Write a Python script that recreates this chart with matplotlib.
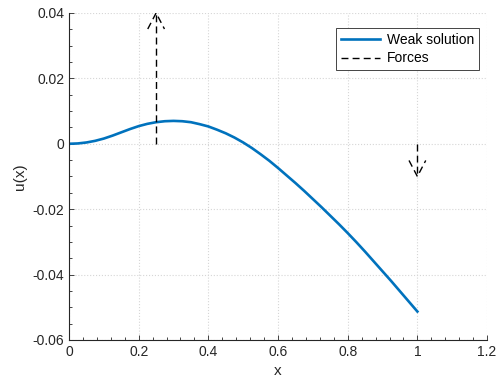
import numpy as np
import matplotlib
matplotlib.use("Agg")
import matplotlib.pyplot as plt
from matplotlib.ticker import MultipleLocator, FormatStrFormatter

plt.rcParams['font.family'] = ['Liberation Sans', 'DejaVu Sans']
plt.rcParams['axes.unicode_minus'] = False

# Weak solution
x = [0, 0.025, 0.05, 0.075, 0.1, 0.125, 0.15, 0.175, 0.2, 0.225, 0.25,
     0.275, 0.3, 0.325, 0.35, 0.375, 0.4, 0.425, 0.45, 0.475, 0.5,
     0.525, 0.55, 0.575, 0.6, 0.625, 0.65, 0.675, 0.7, 0.725, 0.75,
     0.775, 0.8, 0.825, 0.85, 0.875, 0.9, 0.925, 0.95, 0.975, 1.0]
u = [0, 0.0001, 0.0004, 0.0009, 0.0016, 0.0025, 0.0035, 0.0045, 0.0054, 0.0061, 0.0066,
     0.0069, 0.0070, 0.0069, 0.0066, 0.0060, 0.0053, 0.0043, 0.0032, 0.0019, 0.0004,
     -0.0013, -0.0032, -0.0052, -0.0074, -0.0097, -0.0120, -0.0144, -0.0169, -0.0194, -0.0220,
     -0.0246, -0.0273, -0.0301, -0.0330, -0.0360, -0.0390, -0.0420, -0.0451, -0.0482, -0.0513]

# Point forces (position, magnitude)
force_x = [0.25, 1.0]
force_f = [0.04, -0.01]

fig = plt.figure(figsize=(4.98, 3.82), dpi=100)
ax = fig.add_axes([0.1386, 0.110, 0.8394, 0.856])

ax.plot(x, u, color='#0072BD', linewidth=1.9, label='Weak solution')

# dashed arrows for the forces
hw, hh = 0.024, 0.0049
for i, (fx, ff) in enumerate(zip(force_x, force_f)):
    s = np.sign(ff)
    kw = dict(color='black', linestyle=(0, (5, 3)), linewidth=1.0)
    ax.plot([fx, fx], [0, ff], label='Forces' if i == 0 else None, **kw)
    ax.plot([fx - hw, fx, fx + hw], [ff - s * hh, ff, ff - s * hh], **kw)

ax.set_xlim(0, 1.2)
ax.set_ylim(-0.06, 0.04)
ax.xaxis.set_major_locator(MultipleLocator(0.2))
ax.xaxis.set_minor_locator(MultipleLocator(0.04))
ax.yaxis.set_major_locator(MultipleLocator(0.02))
ax.yaxis.set_minor_locator(MultipleLocator(0.005))
ax.xaxis.set_major_formatter(FormatStrFormatter('%g'))
ax.yaxis.set_major_formatter(FormatStrFormatter('%g'))

ax.grid(True, which='major', color='#d6d6d6', linestyle=':', linewidth=0.8)
ax.set_axisbelow(True)
for side in ['top', 'right']:
    ax.spines[side].set_visible(False)
for side in ['left', 'bottom']:
    ax.spines[side].set_color('#262626')
    ax.spines[side].set_linewidth(0.8)
ax.tick_params(which='both', direction='in', colors='#262626', labelsize=10)
ax.tick_params(which='major', length=3.5, width=0.6)
ax.tick_params(which='minor', length=2.5, width=0.6)

ax.set_xlabel('x', fontsize=11, color='#262626')
ax.set_ylabel('u(x)', fontsize=11, color='#262626')

leg = ax.legend(loc='upper right', bbox_to_anchor=(0.98, 0.955), borderaxespad=0,
                fontsize=10, fancybox=False, framealpha=1, edgecolor='#262626',
                handlelength=2.8, handletextpad=0.5, borderpad=0.35, labelspacing=0.35)
leg.get_frame().set_linewidth(0.6)

fig.savefig('out.png', dpi=100)
